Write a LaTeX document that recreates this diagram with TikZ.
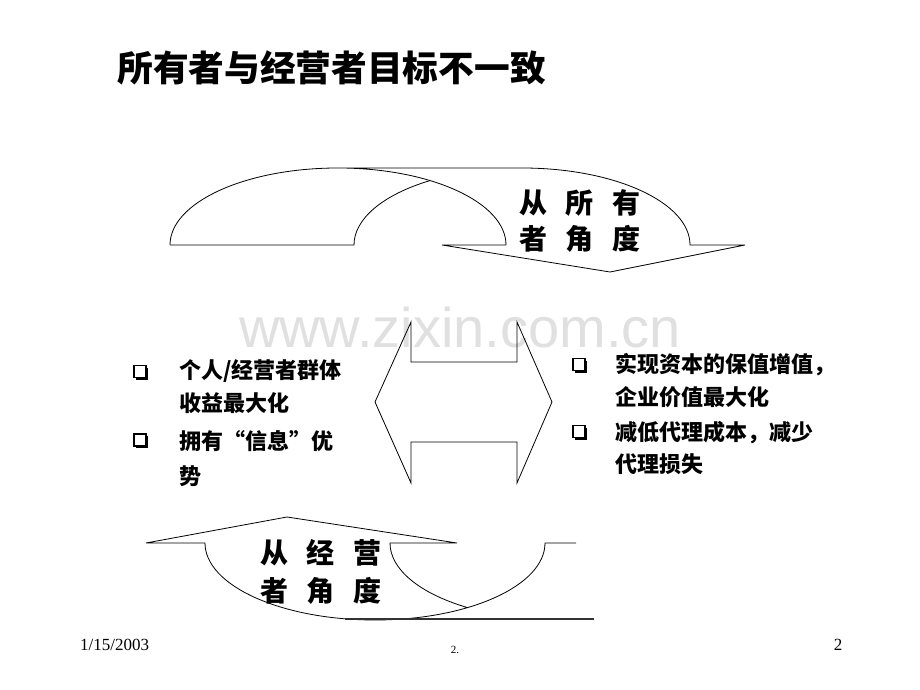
\documentclass[tikz,border=0pt]{standalone}
\usepackage{fontspec}
\setmainfont{Liberation Serif}
\newfontfamily\cjk{Noto Sans CJK SC}
\newfontfamily\wmfont{Liberation Sans}
\usetikzlibrary{shadows}
\newcommand{\cgap}{\hspace{18.5pt}}
\tikzset{
  bandline/.style={draw=black, line width=0.8pt},
  qbox/.style={
      draw, line width=1.2pt, fill=white,
      minimum size=12pt, inner sep=0pt,
      drop shadow={shadow xshift=2.3pt, shadow yshift=-2.3pt, fill=black, opacity=1}
      },
  itemtext/.style={anchor=west, inner sep=0pt, font=\cjk\bfseries\fontsize{22}{22}\selectfont},
  sidetext/.style={inner sep=0pt, font=\cjk\bfseries\fontsize{28}{28}\selectfont},
  foot/.style={inner sep=0pt, font=\fontsize{17}{17}\selectfont}
}

\begin{document}
\begin{tikzpicture}[x=1pt,y=1pt]
\useasboundingbox[fill=white] (0,0) rectangle (920,690);
\node [text=black!12, inner sep=0pt, font=\wmfont\fontsize{56}{56}\selectfont] (mark) at (460,363) {www.zixin.com.cn};
\node [font=\cjk\bfseries\fontsize{35.7}{36}\selectfont] (title) at (331.5,622) {所有者与经营者目标不一致};
\draw [bandline] (170,445) arc [start angle=180, end angle=90, x radius=168, y radius=77]
  -- (522,522) arc [start angle=90, end angle=0, x radius=168, y radius=77]
  -- (745,445) -- (610,418) -- (442,445) -- (506,445)
  arc [start angle=0, end angle=90, x radius=168, y radius=77];
\draw [bandline] (170,445) -- (354,445) arc [start angle=180, end angle=123.2, x radius=168, y radius=77];
\node [sidetext] (own1) at (580,487) {从\cgap 所\cgap 有};
\node [sidetext] (own2) at (580,451) {者\cgap 角\cgap 度};
\draw [bandline] (375,288) -- (411,368) -- (411,328) -- (517,328) -- (517,368) -- (552,288)
  -- (517,207) -- (517,248) -- (411,248) -- (411,207) -- cycle;
\node [qbox] (lb1) at (140,318.5) {};
\node [qbox] (lb2) at (140,250) {};
\node [itemtext] (l1) at (179,319) {个人/经营者群体};
\node [itemtext] (l2) at (179,287) {收益最大化};
\node [itemtext] (l3) at (179,249) {拥有“信息”优};
\node [itemtext] (l4) at (179,214) {势};
\node [qbox] (rb1) at (579,325.5) {};
\node [qbox] (rb2) at (579,258.5) {};
\node [itemtext] (r1) at (615,325) {实现资本的保值增值，};
\node [itemtext] (r2) at (615,293) {企业价值最大化};
\node [itemtext] (r3) at (615,257) {减低代理成本，减少};
\node [itemtext] (r4) at (615,226) {代理损失};
\draw [bandline] (576,147) -- (545,147) arc [start angle=0, end angle=-180, x radius=170, y radius=77]
  -- (146,147) -- (287,173) -- (457,147) -- (390,147)
  arc [start angle=180, end angle=236.8, x radius=170, y radius=77];
\draw [line width=2pt, black!80] (345,70.6) -- (594,70.6);
\node [sidetext] (mgr1) at (321,137) {从\cgap 经\cgap 营};
\node [sidetext] (mgr2) at (321,99) {者\cgap 角\cgap 度};
\node [foot, anchor=west] (date) at (80,45) {1/15/2003};
\node [inner sep=0pt, font=\fontsize{11}{11}\selectfont] (mid) at (455,40) {2.};
\node [foot] (page) at (838,45) {2};
\end{tikzpicture}
\end{document}
